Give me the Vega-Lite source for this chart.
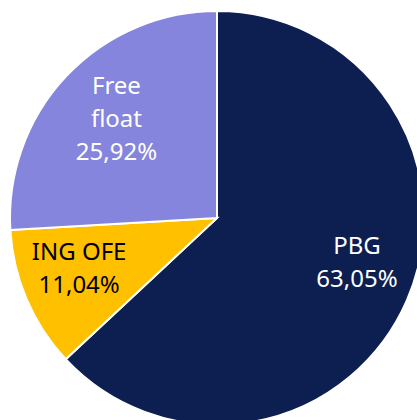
{
  "$schema": "https://vega.github.io/schema/vega-lite/v6.json",
  "width": 434,
  "height": 436,
  "padding": 0,
  "autosize": {"type": "none"},
  "background": "white",
  "view": {"stroke": null},
  "data": {
    "values": [
      {"name": "PBG", "share": 63.05, "label": "PBG\n63,05%", "order": 1},
      {"name": "ING OFE", "share": 11.04, "label": "ING OFE\n11,04%", "order": 2},
      {"name": "Free float", "share": 25.92, "label": "Free\nfloat\n25,92%", "order": 3}
    ]
  },
  "encoding": {
    "theta": {"field": "share", "type": "quantitative", "stack": true},
    "order": {"field": "order", "type": "quantitative"}
  },
  "layer": [
    {
      "mark": {"type": "arc", "outerRadius": 207, "stroke": "white", "strokeWidth": 2},
      "encoding": {
        "color": {
          "field": "name",
          "type": "nominal",
          "scale": {"domain": ["PBG", "ING OFE", "Free float"], "range": ["#0C1F50", "#FFC000", "#8585DD"]},
          "legend": null
        }
      }
    },
    {
      "mark": {"type": "text", "radius": 147, "thetaOffset": -0.1, "dy": -16, "font": "Noto Sans", "fontSize": 24, "lineHeight": 33, "lineBreak": "\n", "align": "center", "baseline": "middle", "color": "white"},
      "encoding": {
        "text": {"condition": {"test": "datum.name === 'PBG'", "field": "label"}, "value": ""}
      }
    },
    {
      "mark": {"type": "text", "radius": 147, "thetaOffset": 0.05, "dy": -16, "font": "Noto Sans", "fontSize": 24, "lineHeight": 33, "lineBreak": "\n", "align": "center", "baseline": "middle", "color": "black"},
      "encoding": {
        "text": {"condition": {"test": "datum.name === 'ING OFE'", "field": "label"}, "value": ""}
      }
    },
    {
      "mark": {"type": "text", "radius": 141, "thetaOffset": 0.02, "dy": -32, "font": "Noto Sans", "fontSize": 24, "lineHeight": 33, "lineBreak": "\n", "align": "center", "baseline": "middle", "color": "white"},
      "encoding": {
        "text": {"condition": {"test": "datum.name === 'Free float'", "field": "label"}, "value": ""}
      }
    }
  ]
}
